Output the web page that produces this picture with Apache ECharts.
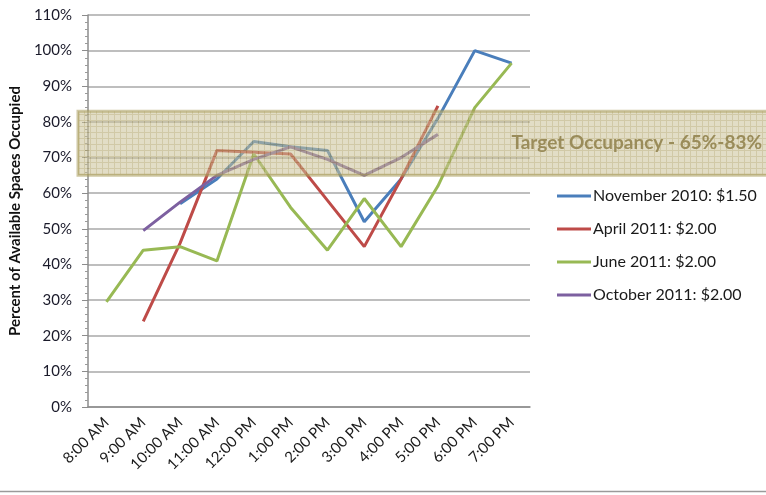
<!DOCTYPE html>
<html>
<head>
<meta charset="utf-8">
<title>Parking occupancy</title>
<script src="https://cdn.jsdelivr.net/npm/echarts/dist/echarts.min.js"></script>
<style>
  html, body { margin: 0; padding: 0; background: #fff; }
  #echarts_line { width: 766px; height: 495px; }
</style>
</head>
<body>
<div id="echarts_line"></div>
<script>
// hours of the count
var hours = ['8:00 AM', '9:00 AM', '10:00 AM', '11:00 AM', '12:00 PM', '1:00 PM',
             '2:00 PM', '3:00 PM', '4:00 PM', '5:00 PM', '6:00 PM', '7:00 PM'];

// percent of spaces occupied, one array per survey
var nov2010 = [null, null, 57, 64, 74.5, 73, 72, 52, 64, 81, 100, 96.5];
var apr2011 = [null, 24, 46, 72, 71.5, 71, 58, 45, 64, 84.5, null, null];
var jun2011 = [29.5, 44, 45, 41, 71, 56, 44, 58.5, 45, 62, 84, 96.5];
var oct2011 = [null, 49.5, 57.5, 65, 69.5, 73, 69.5, 65, 70, 76.5, null, null];

var seriesNames = ['November 2010: $1.50', 'April 2011: $2.00', 'June 2011: $2.00', 'October 2011: $2.00'];
var seriesColors = ['#4a7ebb', '#be4b48', '#98b954', '#7d60a0'];

// target band (percent)
var targetLow = 65;
var targetHigh = 83;
var targetLabel = 'Target Occupancy - 65%-83%';

var FONT = 'Lato, "Open Sans", sans-serif';

// small grid pattern for the target band
function bandPattern() {
  var c = document.createElement('canvas');
  c.width = 6; c.height = 6;
  var g = c.getContext('2d');
  g.fillStyle = '#cbc197';
  g.fillRect(0, 0, 6, 6);
  g.fillStyle = '#ab9d60';
  g.fillRect(0, 0, 6, 1);
  g.fillRect(0, 0, 1, 6);
  return c;
}

function lineSeries(i, values) {
  return {
    name: seriesNames[i],
    type: 'line',
    data: values,
    symbol: 'none',
    connectNulls: false,
    lineStyle: { color: seriesColors[i], width: 3 },
    itemStyle: { color: seriesColors[i] },
    z: 2 + i
  };
}

var chart = echarts.init(document.getElementById('echarts_line'), null, { renderer: 'canvas' });

chart.setOption({
  animation: false,
  backgroundColor: '#fff',
  grid: { left: 88, right: 236, top: 15, bottom: 88, containLabel: false },
  legend: {
    orient: 'vertical',
    left: 557,
    top: 188,
    padding: 0,
    icon: 'rect',
    itemWidth: 34,
    itemHeight: 3,
    itemGap: 17,
    textStyle: { fontFamily: FONT, fontSize: 16, color: '#1a1a1a', padding: [0, 0, 0, -3] },
    data: seriesNames
  },
  xAxis: {
    type: 'category',
    data: hours,
    boundaryGap: true,
    axisLine: { lineStyle: { color: '#8c8c8c', width: 1.5 } },
    axisTick: { show: false },
    axisLabel: {
      rotate: 45,
      margin: 13,
      interval: 0,
      fontFamily: FONT,
      fontSize: 15,
      color: '#1a1a1a'
    }
  },
  yAxis: {
    type: 'value',
    min: 0,
    max: 110,
    interval: 10,
    name: 'Percent of Available Spaces Occupied',
    nameLocation: 'middle',
    nameGap: 62,
    nameTextStyle: { fontFamily: FONT, fontSize: 15, fontWeight: 'bold', color: '#111' },
    axisLine: { show: true, lineStyle: { color: '#8c8c8c', width: 1.5 } },
    axisTick: { show: true, inside: false, length: 6, lineStyle: { color: '#8c8c8c' } },
    minorTick: { show: true, splitNumber: 5, length: 3, lineStyle: { color: '#9a9a9a' } },
    splitLine: { show: true, lineStyle: { color: '#a9a9a9', width: 1.5 } },
    axisLabel: {
      margin: 16,
      fontFamily: FONT,
      fontSize: 15,
      color: '#1a1a2a',
      formatter: '{value}%'
    }
  },
  series: [
    lineSeries(0, nov2010),
    lineSeries(1, apr2011),
    lineSeries(2, jun2011),
    lineSeries(3, oct2011)
  ]
});

// band overlay, placed through the y axis scale
var yTop = chart.convertToPixel({ yAxisIndex: 0 }, targetHigh);
var yBot = chart.convertToPixel({ yAxisIndex: 0 }, targetLow);

chart.setOption({
  graphic: [
    {
      type: 'rect',
      z: 20,
      shape: { x: 78, y: yTop, width: 700, height: yBot - yTop },
      style: {
        fill: { image: bandPattern(), repeat: 'repeat' },
        stroke: '#a89a5a',
        lineWidth: 3,
        opacity: 0.55
      },
      silent: true
    },
    {
      type: 'text',
      z: 21,
      x: 762,
      y: (yTop + yBot) / 2,
      style: {
        text: targetLabel,
        align: 'right',
        verticalAlign: 'middle',
        fill: '#9a8c5a',
        font: 'bold 19px ' + FONT
      },
      silent: true
    },
    {
      type: 'line',
      z: 1,
      shape: { x1: 0, y1: 491.5, x2: 766, y2: 491.5 },
      style: { stroke: '#9a9a9a', lineWidth: 1.5 },
      silent: true
    }
  ]
});
</script>
</body>
</html>
